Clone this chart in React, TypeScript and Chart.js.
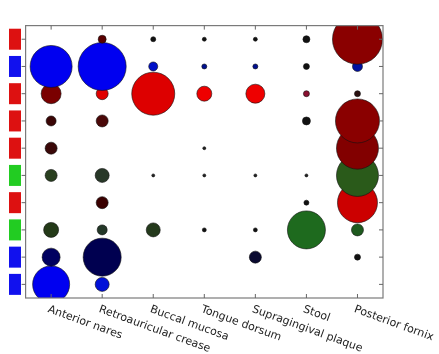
import React, { useEffect, useRef } from "react";
import { Chart, registerables } from "chart.js";

Chart.register(...registerables);

const categories = [
  "Anterior nares",
  "Retroauricular crease",
  "Buccal mucosa",
  "Tongue dorsum",
  "Supragingival plaque",
  "Stool",
  "Posterior fornix",
];

// Row marker colors (top to bottom)
const rowMarkerColors = [
  "#dd1111", "#1111ee", "#dd1111", "#dd1111", "#dd1111",
  "#22cc22", "#dd1111", "#22cc22", "#1111ee", "#1111ee",
];

// bubble sizes per row (top to bottom), per category
const row0 = [0, 4, 2.5, 2, 2, 3.5, 25];
const row1 = [21, 24, 4.5, 2.5, 2.5, 3, 5];
const row2 = [10, 6, 21.5, 7.5, 9.5, 3, 3];
const row3 = [5, 6, 0, 0, 0, 4, 22];
const row4 = [6, 0, 0, 1.5, 0, 0, 21];
const row5 = [6, 7, 1.5, 1.5, 1.5, 1.5, 21];
const row6 = [0, 6, 0, 0, 0, 2.5, 20];
const row7 = [7.5, 5, 7, 2, 2, 19, 6];
const row8 = [9, 19, 0, 0, 6, 0, 3];
const row9 = [18.5, 7, 0, 0, 0, 0, 0];

const col0 = ["#000", "#5a0000", "#111", "#111", "#111", "#111", "#8a0000"];
const col1 = ["#0000f0", "#0000f0", "#0010c8", "#001090", "#001090", "#111", "#0010a0"];
const col2 = ["#7a0000", "#e00000", "#dd0000", "#ee0000", "#ee0000", "#8a1030", "#2a1010"];
const col3 = ["#3a0505", "#4a0808", "#000", "#000", "#000", "#111", "#8a0000"];
const col4 = ["#3a0808", "#000", "#000", "#222", "#000", "#000", "#820000"];
const col5 = ["#2a4020", "#283828", "#222", "#222", "#222", "#222", "#2a5a1a"];
const col6 = ["#000", "#3a0000", "#000", "#000", "#000", "#111", "#cc0000"];
const col7 = ["#243a18", "#243828", "#243a1c", "#111", "#111", "#1e6a1e", "#1e5a1e"];
const col8 = ["#000060", "#000050", "#000", "#000", "#0a0a30", "#000", "#111"];
const col9 = ["#0000f0", "#0010d8", "#000", "#000", "#000", "#000", "#000"];

const rows = [row0, row1, row2, row3, row4, row5, row6, row7, row8, row9];
const rowColors = [col0, col1, col2, col3, col4, col5, col6, col7, col8, col9];

const decorPlugin = {
  id: "decor",
  afterDraw(chart: any) {
    const ctx = chart.ctx;
    const { left, right, top, bottom } = chart.chartArea;
    const xs = chart.scales.x;
    const ys = chart.scales.y;
    ctx.save();
    // frame
    ctx.strokeStyle = "#7a7a7a";
    ctx.lineWidth = 1.2;
    ctx.strokeRect(left, top, right - left, bottom - top);
    // ticks
    ctx.lineWidth = 1;
    ctx.strokeStyle = "#666";
    categories.forEach((_, i) => {
      const x = xs.getPixelForValue(i);
      ctx.beginPath();
      ctx.moveTo(x, bottom);
      ctx.lineTo(x, bottom - 4);
      ctx.moveTo(x, top);
      ctx.lineTo(x, top + 4);
      ctx.stroke();
    });
    rowMarkerColors.forEach((c, i) => {
      const y = ys.getPixelForValue(i);
      ctx.beginPath();
      ctx.moveTo(left - 4, y);
      ctx.lineTo(left, y);
      ctx.moveTo(right - 4, y);
      ctx.lineTo(right, y);
      ctx.stroke();
      // row marker squares
      ctx.fillStyle = c;
      ctx.fillRect(9, y - 10.5, 12, 21);
    });
    // rotated category labels
    ctx.fillStyle = "#222";
    ctx.font = '11px "DejaVu Sans"';
    ctx.textAlign = "left";
    ctx.textBaseline = "top";
    categories.forEach((lab, i) => {
      const x = xs.getPixelForValue(i);
      ctx.save();
      ctx.translate(x - 1, bottom + 6);
      ctx.rotate((20 * Math.PI) / 180);
      ctx.fillText(lab, 0, 0);
      ctx.restore();
    });
    ctx.restore();
  },
};

export default function App() {
  const ref = useRef<HTMLCanvasElement | null>(null);
  useEffect(() => {
    if (!ref.current) return;
    const datasets = rows.map((r, ri) => {
      const pts: any[] = [];
      const cols: string[] = [];
      r.forEach((v, ci) => {
        if (v > 0) {
          pts.push({ x: ci, y: ri, r: v });
          cols.push(rowColors[ri][ci]);
        }
      });
      return {
        label: "row " + ri,
        data: pts,
        backgroundColor: cols,
        borderColor: "#111",
        borderWidth: 0.6,
      };
    });
    const chart = new Chart(ref.current, {
      type: "bubble",
      data: { datasets },
      options: {
        animation: false,
        responsive: false,
        layout: { padding: { left: 25, top: 8, right: 56, bottom: 56 } },
        plugins: { legend: { display: false }, tooltip: { enabled: false } },
        scales: {
          x: { type: "linear", min: -0.5, max: 6.5, display: false },
          y: { type: "linear", min: -0.5, max: 9.5, reverse: true, display: false },
        },
      },
      plugins: [decorPlugin],
    });
    return () => chart.destroy();
  }, []);
  return (
    <div style={{ position: "fixed", left: 0, top: 0, width: 439, height: 354, background: "#fff" }}>
      <canvas ref={ref} width={439} height={354} style={{ width: 439, height: 354 }} />
    </div>
  );
}
